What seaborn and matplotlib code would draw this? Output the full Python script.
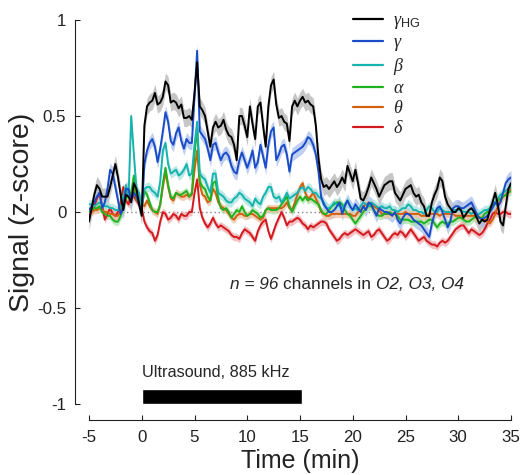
import numpy as np
import pandas as pd
import matplotlib
matplotlib.use("Agg")
import matplotlib.pyplot as plt
from matplotlib.lines import Line2D
import seaborn as sns

# ---------------- data (sampled every 0.25 min from -5 to 35) ----------------
t_start, t_step = -5.0, 0.25

gamma_hg = [
    -0.05, 0.02, 0.09, 0.14,
    0.12, 0.08, 0.08, 0.08,
    0.13, 0.19, 0.25, 0.18,
    0.09, 0.01, 0.09, 0.08,
    0.05, 0.15, 0.12, 0.04,
    -0.02, 0.45, 0.55, 0.57,
    0.58, 0.62, 0.56, 0.57,
    0.60, 0.68, 0.66, 0.57,
    0.58, 0.57, 0.54, 0.56,
    0.49, 0.49, 0.50, 0.48,
    0.62, 0.78, 0.55, 0.53,
    0.50, 0.42, 0.34, 0.44,
    0.47, 0.44, 0.45, 0.48,
    0.43, 0.40, 0.39, 0.35,
    0.27, 0.50, 0.50, 0.45,
    0.39, 0.55, 0.46, 0.38,
    0.55, 0.57, 0.45, 0.34,
    0.55, 0.66, 0.69, 0.56,
    0.49, 0.50, 0.47, 0.46,
    0.37, 0.55, 0.58, 0.55,
    0.58, 0.60, 0.57, 0.58,
    0.56, 0.55, 0.45, 0.28,
    0.17, 0.13, 0.14, 0.12,
    0.14, 0.16, 0.13, 0.15,
    0.18, 0.15, 0.24, 0.20,
    0.16, 0.22, 0.15, 0.07,
    0.06, 0.09, 0.13, 0.18,
    0.15, 0.12, 0.08, 0.11,
    0.14, 0.15, 0.16, 0.16,
    0.10, 0.08, 0.06, 0.09,
    0.12, 0.13, 0.14, 0.10,
    0.08, 0.09, 0.05, 0.03,
    -0.02, -0.02, 0.05, 0.09,
    0.12, 0.18, 0.16, 0.08,
    0.04, 0.02, 0.00, 0.00,
    0.02, 0.01, -0.03, -0.01,
    0.01, 0.02, 0.00, -0.03,
    -0.06, -0.04, -0.05, -0.04,
    0.01, 0.05, 0.10, 0.04,
    -0.05, -0.07, 0.03, 0.12,
    0.15,
]

gamma = [
    0.01, 0.03, 0.05, 0.08,
    0.10, 0.02, 0.05, 0.12,
    0.22, 0.20, 0.13, 0.06,
    -0.01, 0.02, 0.12, 0.12,
    0.06, 0.10, 0.08, 0.04,
    0.00, 0.25, 0.32, 0.36,
    0.38, 0.34, 0.26, 0.33,
    0.42, 0.52, 0.47, 0.37,
    0.35, 0.41, 0.44, 0.37,
    0.33, 0.38, 0.36, 0.36,
    0.60, 0.84, 0.42, 0.40,
    0.38, 0.33, 0.27, 0.35,
    0.36, 0.31, 0.27, 0.30,
    0.31, 0.29, 0.24, 0.21,
    0.20, 0.27, 0.31, 0.27,
    0.23, 0.27, 0.32, 0.23,
    0.26, 0.35, 0.29, 0.23,
    0.35, 0.42, 0.44, 0.27,
    0.30, 0.34, 0.35, 0.30,
    0.21, 0.30, 0.31, 0.32,
    0.33, 0.34, 0.36, 0.39,
    0.38, 0.35, 0.30, 0.21,
    0.08, 0.04, 0.02, 0.00,
    0.00, 0.01, 0.03, 0.05,
    -0.01, 0.03, 0.06, 0.03,
    0.01, 0.04, 0.02, 0.00,
    0.03, 0.01, 0.05, 0.04,
    0.01, -0.02, 0.02, 0.01,
    0.00, 0.00, -0.01, -0.02,
    0.00, -0.04, -0.06, -0.03,
    -0.01, -0.01, -0.02, -0.04,
    -0.05, -0.06, -0.07, -0.09,
    -0.11, -0.13, -0.06, -0.01,
    0.02, 0.03, 0.00, -0.04,
    -0.08, -0.05, 0.02, 0.03,
    0.03, 0.02, 0.02, 0.03,
    0.04, 0.05, 0.02, -0.01,
    -0.03, -0.04, -0.03, -0.02,
    0.00, 0.02, 0.05, 0.03,
    0.05, 0.10, 0.15, 0.17,
    0.18,
]

beta = [
    0.04, 0.04, 0.03, 0.04,
    0.05, 0.04, 0.03, 0.03,
    0.02, 0.02, 0.01, 0.01,
    0.02, 0.08, 0.14, 0.08,
    0.50, 0.30, 0.12, 0.10,
    0.02, 0.12, 0.13, 0.13,
    0.11, 0.10, 0.08, 0.16,
    0.32, 0.36, 0.25, 0.20,
    0.21, 0.22, 0.19, 0.20,
    0.22, 0.25, 0.19, 0.20,
    0.35, 0.47, 0.20, 0.18,
    0.17, 0.13, 0.10, 0.20,
    0.20, 0.10, 0.09, 0.08,
    0.06, 0.05, 0.05, 0.07,
    0.08, 0.10, 0.09, 0.07,
    0.06, 0.05, 0.03, 0.07,
    0.05, 0.04, 0.08, 0.10,
    0.13, 0.13, 0.08, 0.07,
    0.08, 0.05, 0.07, 0.10,
    0.07, 0.08, 0.09, 0.10,
    0.12, 0.13, 0.11, 0.13,
    0.12, 0.10, 0.10, 0.08,
    0.07, 0.05, 0.02, 0.02,
    0.03, 0.05, 0.04, 0.03,
    0.02, 0.04, 0.06, 0.03,
    0.01, 0.02, 0.01, 0.03,
    0.05, 0.04, 0.03, 0.05,
    0.04, 0.03, 0.02, 0.03,
    0.02, 0.02, 0.03, 0.01,
    0.01, 0.00, 0.01, 0.02,
    0.02, 0.04, 0.03, 0.01,
    0.01, 0.00, 0.00, -0.01,
    0.01, 0.03, 0.02, 0.00,
    0.00, 0.02, 0.01, 0.00,
    0.00, 0.00, 0.01, 0.01,
    0.01, 0.01, 0.00, 0.00,
    0.00, -0.01, 0.00, -0.01,
    -0.01, 0.00, 0.01, 0.01,
    0.02, 0.04, 0.05, 0.07,
    0.09, 0.10, 0.11, 0.12,
    0.13,
]

alpha = [
    0.00, 0.01, 0.02, 0.02,
    0.03, 0.00, -0.01, -0.02,
    -0.02, -0.04, -0.05, -0.05,
    -0.02, 0.02, 0.07, 0.09,
    0.10, 0.19, 0.07, 0.06,
    0.03, 0.11, 0.09, 0.05,
    0.01, 0.00, 0.00, 0.04,
    0.15, 0.23, 0.14, 0.08,
    0.07, 0.10, 0.09, 0.09,
    0.10, 0.11, 0.08, 0.10,
    0.30, 0.44, 0.16, 0.13,
    0.12, 0.08, 0.06, 0.15,
    0.16, 0.07, 0.02, 0.01,
    0.02, 0.00, -0.03, -0.01,
    0.01, 0.00, 0.03, 0.00,
    -0.02, -0.01, 0.01, 0.00,
    -0.01, -0.03, -0.02, 0.01,
    0.02, 0.01, 0.01, 0.01,
    0.02, 0.04, 0.06, 0.08,
    0.03, 0.00, 0.03, 0.06,
    0.08, 0.06, 0.08, 0.06,
    0.07, 0.06, 0.05, 0.04,
    0.01, -0.01, -0.01, 0.01,
    0.03, 0.04, 0.05, 0.05,
    0.04, 0.01, -0.01, -0.02,
    -0.04, -0.06, -0.04, -0.02,
    0.00, 0.02, 0.03, 0.03,
    0.01, -0.01, -0.02, -0.02,
    -0.01, -0.01, 0.00, -0.01,
    -0.01, -0.02, -0.04, -0.04,
    -0.04, -0.04, -0.05, -0.05,
    -0.05, -0.05, -0.05, -0.06,
    -0.05, -0.04, -0.04, -0.06,
    -0.08, -0.06, -0.05, -0.06,
    -0.06, -0.05, -0.05, -0.04,
    -0.03, -0.03, -0.04, -0.05,
    -0.05, -0.04, -0.03, -0.02,
    -0.03, -0.03, -0.01, 0.00,
    0.02, 0.03, 0.05, 0.06,
    0.07, 0.08, 0.09, 0.10,
    0.11,
]

theta = [
    0.00, 0.00, 0.01, 0.01,
    0.02, 0.01, 0.00, 0.00,
    -0.01, -0.01, -0.02, -0.02,
    0.00, 0.06, 0.13, 0.08,
    0.07, 0.14, 0.06, 0.04,
    0.04, 0.03, 0.06, 0.03,
    0.01, 0.00, -0.01, 0.04,
    0.13, 0.21, 0.13, 0.07,
    0.06, 0.10, 0.09, 0.08,
    0.08, 0.09, 0.08, 0.09,
    0.22, 0.32, 0.14, 0.09,
    0.08, 0.05, 0.06, 0.12,
    0.10, 0.05, 0.03, 0.02,
    0.01, -0.01, -0.03, -0.04,
    -0.02, -0.01, -0.01, -0.02,
    -0.02, -0.01, -0.01, -0.02,
    -0.03, -0.04, -0.03, 0.01,
    0.02, 0.02, 0.02, 0.02,
    0.02, 0.02, 0.03, 0.05,
    0.02, 0.01, 0.05, 0.09,
    0.13, 0.15, 0.10, 0.07,
    0.08, 0.10, 0.07, 0.04,
    0.00, -0.01, -0.02, -0.02,
    -0.01, -0.01, -0.01, -0.01,
    -0.01, -0.01, -0.01, -0.01,
    -0.02, -0.02, 0.00, 0.01,
    0.03, 0.04, 0.04, 0.04,
    0.03, 0.02, 0.01, -0.01,
    -0.01, -0.01, -0.01, -0.01,
    -0.01, -0.01, -0.01, -0.01,
    0.00, -0.01, -0.01, -0.01,
    -0.01, -0.01, -0.02, -0.02,
    -0.02, -0.01, -0.01, -0.01,
    -0.01, -0.02, -0.01, -0.01,
    -0.01, -0.01, -0.01, -0.02,
    -0.02, -0.02, -0.02, -0.02,
    -0.02, -0.02, -0.02, -0.03,
    -0.03, -0.03, -0.04, -0.05,
    -0.06, -0.04, -0.01, 0.03,
    0.06, 0.08, 0.09, 0.11,
    0.12,
]

delta = [
    -0.02, 0.00, 0.03, 0.07,
    0.10, 0.03, -0.04, -0.01,
    0.02, -0.01, -0.02, 0.00,
    0.05, 0.13, 0.06, 0.04,
    0.10, 0.08, 0.06, 0.04,
    0.02, -0.05, -0.08, -0.10,
    -0.11, -0.15, -0.12, -0.05,
    0.00, -0.01, -0.04, -0.03,
    -0.01, -0.02, -0.04, -0.01,
    -0.02, -0.02, 0.00, 0.00,
    0.10, 0.17, 0.02, -0.03,
    -0.06, -0.08, -0.06, -0.03,
    -0.06, -0.08, -0.07, -0.08,
    -0.09, -0.10, -0.12, -0.13,
    -0.13, -0.14, -0.11, -0.09,
    -0.10, -0.11, -0.13, -0.15,
    -0.10, -0.07, -0.05, -0.04,
    -0.10, -0.14, -0.10, -0.06,
    -0.03, 0.00, -0.03, -0.07,
    -0.05, -0.05, -0.04, -0.03,
    -0.04, -0.06, -0.07, -0.09,
    -0.07, -0.08, -0.07, -0.06,
    -0.05, -0.05, -0.06, -0.09,
    -0.11, -0.13, -0.15, -0.14,
    -0.12, -0.11, -0.12, -0.11,
    -0.10, -0.09, -0.10, -0.11,
    -0.12, -0.11, -0.10, -0.13,
    -0.12, -0.10, -0.09, -0.11,
    -0.13, -0.15, -0.14, -0.12,
    -0.11, -0.12, -0.10, -0.11,
    -0.13, -0.11, -0.09, -0.11,
    -0.13, -0.15, -0.14, -0.13,
    -0.15, -0.16, -0.17, -0.17,
    -0.18, -0.16, -0.15, -0.16,
    -0.15, -0.13, -0.11, -0.09,
    -0.08, -0.07, -0.07, -0.09,
    -0.11, -0.09, -0.10, -0.11,
    -0.12, -0.11, -0.09, -0.06,
    -0.04, -0.01, 0.00, -0.01,
    -0.01, 0.00, 0.00, -0.01,
    -0.01,
]

band_names = ["γHG", "γ", "β", "α", "θ", "δ"]
band_values = [gamma_hg, gamma, beta, alpha, theta, delta]
band_sem = [0.045, 0.035, 0.025, 0.02, 0.02, 0.02]
legend_labels = [r"$\gamma_{\mathrm{HG}}$", r"$\gamma$", r"$\beta$",
                 r"$\alpha$", r"$\theta$", r"$\delta$"]
band_colors = ["#000000", "#1a4cc8", "#17b3ad", "#1fb21f", "#d2600e", "#d21a1f"]
shade_colors = ["#b4b4b4", "#aabfee", "#a6e2df", "#a9e3a9", "#f1c2a4", "#f1aaae"]

x_ticks = [-5, 0, 5, 10, 15, 20, 25, 30, 35]
y_ticks = [-1, -0.5, 0, 0.5, 1]
y_ticklabels = ["-1", "-0.5", "0", "0.5", "1"]

stim_on, stim_off = 0.0, 15.2
stim_label = "Ultrasound, 885 kHz"
annot_parts = [("n = 96 ", "italic"), ("channels in ", "normal"), ("O2, O3, O4", "italic")]

# ---------------- long table ----------------
rows = []
for name, vals in zip(band_names, band_values):
    for i, v in enumerate(vals):
        rows.append({"time": t_start + t_step * i, "value": v, "band": name})
df = pd.DataFrame(rows)

# ---------------- figure ----------------
sns.set_style("ticks")
plt.rcParams["font.family"] = ["Liberation Sans", "DejaVu Sans"]
plt.rcParams["mathtext.fontset"] = "custom"
plt.rcParams["mathtext.rm"] = "Liberation Sans"
plt.rcParams["mathtext.it"] = "Liberation Serif:italic"
plt.rcParams["mathtext.bf"] = "Liberation Sans:bold"
plt.rcParams["mathtext.sf"] = "Liberation Sans"

W, H = 521, 475
fig = plt.figure(figsize=(W / 100, H / 100), dpi=100)
ax = fig.add_axes([89 / W, (H - 404) / H, (511 - 89) / W, (404 - 20) / H])

# zero reference line
ax.axhline(0, color="#808080", lw=1.0, ls=(0, (1, 2)), zorder=1)

# shading (SEM-like bands)
for name, sem, sc in zip(band_names, band_sem, shade_colors):
    sub = df[df["band"] == name]
    ax.fill_between(sub["time"], sub["value"] - sem, sub["value"] + sem,
                    color=sc, alpha=0.75, lw=0, zorder=2)

palette = dict(zip(band_names, band_colors))
sns.lineplot(data=df, x="time", y="value", hue="band", hue_order=band_names[::-1],
             palette=palette, lw=1.4, legend=False, ax=ax, zorder=3,
             estimator=None, sort=False)

# stimulation bar
ax.barh(-0.962, stim_off - stim_on, left=stim_on, height=0.076,
        color="black", zorder=4)
ax.text(stim_on, -0.835, stim_label, fontsize=11.7, ha="left", va="center")

# annotation with mixed styles
prev = ax.text(8.36, -0.38, annot_parts[0][0], fontsize=12.4,
               style=annot_parts[0][1], ha="left", va="center")
for txt, st in annot_parts[1:]:
    prev = ax.annotate(txt, xy=(1, 0), xycoords=prev, fontsize=12.4, style=st,
                       ha="left", va="bottom")

ax.set_xlim(-5, 35)
ax.set_ylim(-1, 1)
ax.set_xticks(x_ticks)
ax.set_xticklabels([str(v) for v in x_ticks])
ax.set_yticks(y_ticks)
ax.set_yticklabels(y_ticklabels)

for s in ["top", "right"]:
    ax.spines[s].set_visible(False)
ax.spines["left"].set_position(("outward", 10.3))
ax.spines["bottom"].set_position(("outward", 11.5))
ax.spines["left"].set_bounds(-1, 1)
ax.spines["bottom"].set_bounds(-5, 35)
for s in ["left", "bottom"]:
    ax.spines[s].set_linewidth(0.8)
    ax.spines[s].set_color("#222222")
ax.tick_params(direction="in", length=3.3, width=0.8, labelsize=12.2, colors="#222222",
               pad=6)
ax.tick_params(axis="x", pad=7)

ax.set_xlabel("Time (min)", fontsize=18, color="#222222", labelpad=3)
ax.set_ylabel("Signal (z-score)", fontsize=20.5, color="#222222", labelpad=1.5)

handles = [Line2D([], [], color=c, lw=1.6) for c in band_colors]
leg = ax.legend(handles, legend_labels, loc="upper left",
                bbox_to_anchor=(353 / W, 1 - 12 / H), bbox_transform=fig.transFigure,
                frameon=False, fontsize=13, handlelength=1.65, handletextpad=0.55,
                labelspacing=0.17, borderpad=0, borderaxespad=0)

fig.savefig("out.png", dpi=100)
